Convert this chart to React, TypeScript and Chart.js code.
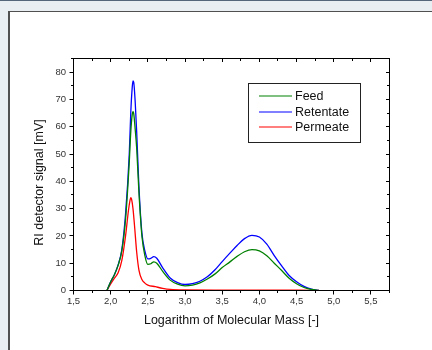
import React, { useEffect, useRef } from "react";
import { Chart, registerables } from "chart.js";

Chart.register(...registerables);

// ---- data ----
const logM = [
  1.95, 2.0, 2.05, 2.1, 2.15, 2.2, 2.25, 2.27, 2.29, 2.3, 2.31, 2.33, 2.35, 2.38,
  2.42, 2.46, 2.5, 2.54, 2.58, 2.62, 2.7, 2.8, 2.9, 3.0, 3.1, 3.2, 3.3, 3.4, 3.5,
  3.6, 3.7, 3.8, 3.9, 4.0, 4.1, 4.2, 4.3, 4.4, 4.5, 4.6, 4.7, 4.8,
];
const feed = [
  0, 3.2, 5.8, 9.2, 14.5, 26, 47, 58, 64.5, 65.5, 64.8, 59, 52, 36,
  20, 12.8, 9.6, 9.8, 10.5, 10.0, 7.0, 3.8, 2.3, 1.7, 2.0, 2.8, 4.2, 6.0, 8.4,
  10.4, 12.5, 14.2, 15.0, 14.5, 12.7, 10.0, 7.3, 4.5, 2.5, 1.1, 0.4, 0,
];
const retentate = [
  0, 3.2, 5.8, 9.4, 15, 28, 50, 65, 74.5, 76.8, 76.3, 69, 58, 38,
  21, 14.5, 11.6, 11.8, 12.4, 11.8, 8.3, 4.6, 2.9, 2.2, 2.5, 3.4, 5.0, 7.5, 10.6,
  13.6, 16.5, 19.0, 20.2, 19.6, 17.0, 12.8, 9.0, 5.5, 3.2, 1.5, 0.5, 0,
];
const permeateLogM = [
  1.95, 2.0, 2.05, 2.1, 2.15, 2.2, 2.24, 2.26, 2.27, 2.28, 2.3, 2.32, 2.35, 2.38,
  2.42, 2.46, 2.5, 2.6, 2.7, 2.8, 3.0, 3.5, 4.0, 4.5, 4.7, 4.8,
];
const permeate = [
  0, 2.4, 4.5, 6.5, 11, 20, 29.5, 33, 34, 33.6, 30, 24, 14, 7.5,
  4, 2.7, 2.0, 1.4, 0.8, 0.4, 0.2, 0.15, 0.15, 0.12, 0.08, 0,
];

const seriesNames = ["Feed", "Retentate", "Permeate"];
const seriesColors = ["#008000", "#0000ff", "#ff0000"];
const xTitle = "Logarithm of Molecular Mass [-]";
const yTitle = "RI detector signal [mV]";
const xMin = 1.5;
const xMax = 5.75;
const xStep = 0.5;
const yMin = 0;
const yMax = 85;
const yStep = 10;

const FONT = '"Liberation Sans", Arial, sans-serif';

const toPts = (xs: number[], ys: number[]) => xs.map((x, i) => ({ x, y: ys[i] }));

const framePlugin = {
  id: "framePlugin",
  afterDraw(chart: any) {
    const { ctx, chartArea: a } = chart;
    const xs = chart.scales.x;
    const ys = chart.scales.y;
    ctx.save();
    ctx.strokeStyle = "#000";
    ctx.lineWidth = 1;
    ctx.strokeRect(a.left, a.top, a.right - a.left, a.bottom - a.top);
    const line = (x1: number, y1: number, x2: number, y2: number) => {
      ctx.beginPath();
      ctx.moveTo(x1, y1);
      ctx.lineTo(x2, y2);
      ctx.stroke();
    };
    // x ticks (major every 0.5, minor every 0.25)
    for (let i = 0; ; i++) {
      const v = xMin + i * (xStep / 2);
      if (v > xMax + 1e-9) break;
      const px = Math.floor(xs.getPixelForValue(v)) + 0.5;
      const major = i % 2 === 0;
      line(px, a.bottom, px, a.bottom + (major ? 4 : 2.5));
      line(px, a.top, px, a.top + (major ? 3.5 : 2.5));
    }
    // y ticks (major every 10, minor every 5)
    for (let i = 0; ; i++) {
      const v = yMin + i * (yStep / 2);
      if (v > yMax + 1e-9) break;
      const py = Math.floor(ys.getPixelForValue(v)) + 0.5;
      const major = i % 2 === 0;
      line(a.left, py, a.left - (major ? 4 : 2.5), py);
      line(a.right, py, a.right - (major ? 3.5 : 2.5), py);
    }
    // axis titles
    ctx.fillStyle = "#111";
    ctx.font = `12.5px ${FONT}`;
    ctx.textAlign = "center";
    ctx.textBaseline = "middle";
    ctx.fillText(xTitle, (a.left + a.right) / 2, 321);
    ctx.save();
    ctx.translate(40, 182.5);
    ctx.rotate(-Math.PI / 2);
    ctx.fillText(yTitle, 0, 0);
    ctx.restore();
    // legend
    const bx = 248.5, by = 83.5, bw = 112, bh = 59;
    ctx.fillStyle = "#fff";
    ctx.fillRect(bx, by, bw, bh);
    ctx.strokeStyle = "#222";
    ctx.lineWidth = 1;
    ctx.strokeRect(bx, by, bw, bh);
    const rows = [96, 112, 127];
    chart.data.datasets.forEach((ds: any, i: number) => {
      const yy = rows[i];
      ctx.strokeStyle = ds.borderColor;
      ctx.lineWidth = 1.2;
      line(259, yy, 292, yy);
      ctx.fillStyle = "#111";
      ctx.font = `12.5px ${FONT}`;
      ctx.textAlign = "left";
      ctx.textBaseline = "middle";
      ctx.fillText(ds.label, 295, yy + 0.5);
    });
    ctx.restore();
  },
};

export default function App() {
  const ref = useRef<HTMLCanvasElement | null>(null);

  useEffect(() => {
    if (!ref.current) return;
    const fmt = (v: any) => Number(v).toFixed(1).replace(".", ",");
    const chart = new Chart(ref.current, {
      type: "line",
      data: {
        datasets: [
          { label: seriesNames[0], data: toPts(logM, feed), borderColor: seriesColors[0] },
          { label: seriesNames[1], data: toPts(logM, retentate), borderColor: seriesColors[1] },
          { label: seriesNames[2], data: toPts(permeateLogM, permeate), borderColor: seriesColors[2] },
        ].map((d) => ({
          ...d,
          borderWidth: 1.3,
          pointRadius: 0,
          fill: false,
          cubicInterpolationMode: "monotone" as const,
        })),
      },
      options: {
        responsive: false,
        animation: false,
        events: [],
        layout: { padding: { left: 0, top: 58.5, right: 42.5, bottom: 0 } },
        plugins: { legend: { display: false }, tooltip: { enabled: false } },
        scales: {
          x: {
            type: "linear",
            min: xMin,
            max: xMax,
            grid: { display: false, drawTicks: false },
            border: { display: false },
            ticks: {
              stepSize: xStep,
              includeBounds: false,
              autoSkip: false,
              maxRotation: 0,
              padding: 5,
              color: "#333",
              font: { family: FONT, size: 9.5 },
              callback: fmt,
            },
            afterFit: (s: any) => {
              s.height = 59.5;
            },
          },
          y: {
            type: "linear",
            min: yMin,
            max: yMax,
            grid: { display: false, drawTicks: false },
            border: { display: false },
            ticks: {
              stepSize: yStep,
              includeBounds: false,
              padding: 7.5,
              color: "#333",
              font: { family: FONT, size: 9.5 },
            },
            afterFit: (s: any) => {
              s.width = 73.5;
            },
          },
        },
      },
      plugins: [framePlugin],
    } as any);
    return () => chart.destroy();
  }, []);

  return (
    <div
      style={{
        position: "fixed",
        left: 0,
        top: 0,
        width: 432,
        height: 350,
        background: "#e9eef3",
        overflow: "hidden",
      }}
    >
      <div style={{ position: "absolute", left: 0, top: 0, width: 432, height: 1, background: "#55657a" }} />
      <div
        style={{
          position: "absolute",
          left: 8,
          top: 11,
          width: 424,
          height: 339,
          background: "#fff",
          borderLeft: "2px solid #505050",
          borderTop: "1px solid #505050",
          boxSizing: "border-box",
        }}
      />
      <canvas
        ref={ref}
        width={432}
        height={350}
        style={{ position: "absolute", left: 0, top: 0, width: 432, height: 350 }}
      />
    </div>
  );
}
